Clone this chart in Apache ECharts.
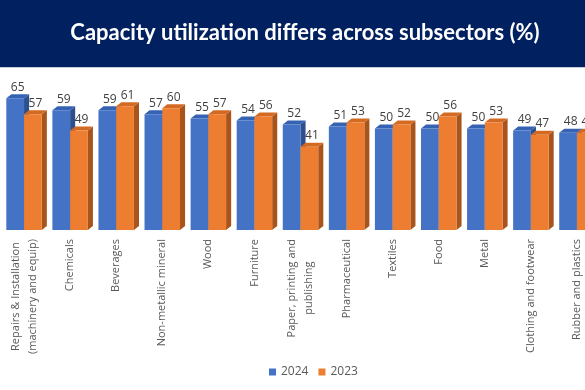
<!DOCTYPE html>
<html>
<head>
<meta charset="utf-8">
<script src="https://cdn.jsdelivr.net/npm/echarts@6/dist/echarts.min.js"></script>
<style>html,body{margin:0;padding:0;background:#fff}#c{width:585px;height:390px}</style>
</head>
<body>
<div id="c"></div>
<script>
var categories = [
  'Repairs & Installation\n(machinery and equip)',
  'Chemicals',
  'Beverages',
  'Non-metallic mineral',
  'Wood',
  'Furniture',
  'Paper, printing and\npublishing',
  'Pharmaceutical',
  'Textiles',
  'Food',
  'Metal',
  'Clothing and footwear',
  'Rubber and plastics'
];
var values2024 = [65, 59, 59, 57, 55, 54, 52, 51, 50, 50, 50, 49, 48];
var values2023 = [57, 49, 61, 60, 57, 56, 41, 53, 52, 56, 53, 47, 48];
var seriesNames = ['2024', '2023'];
var frontColors = ['#4472C4', '#ED7D31'];
var sideColors = ['#2C4F8E', '#A9541B'];
var topColors = ['#3562B2', '#D46A22'];

var chart = echarts.init(document.getElementById('c'));

function makeRender(s) {
  return function (params, api) {
    var idx = api.value(0);
    var v = api.value(1);
    var top = api.coord([idx, v]);
    var base = api.coord([idx, 0]);
    var band = api.size([1, 0])[0];
    var fw = band * 0.385;
    var dx = band * 0.11;
    var dy = 4;
    var x0 = top[0] - fw + s * fw;
    var ty = top[1], by = base[1];
    return {
      type: 'group',
      children: [
        { type: 'polygon', shape: { points: [[x0 + fw, ty], [x0 + fw + dx, ty - dy], [x0 + fw + dx, by - dy], [x0 + fw, by]] }, style: { fill: sideColors[s] } },
        { type: 'polygon', shape: { points: [[x0, ty], [x0 + dx, ty - dy], [x0 + fw + dx, ty - dy], [x0 + fw, ty]] }, style: { fill: topColors[s] } },
        { type: 'rect', shape: { x: x0, y: ty, width: fw, height: by - ty }, style: { fill: frontColors[s] } },
        { type: 'text', z2: 100, style: { text: String(v), x: x0 + fw / 2 + dx / 2, y: ty - dy - 1, align: 'center', verticalAlign: 'bottom', fill: '#404040', font: '12px "Open Sans"' } }
      ]
    };
  };
}

var option = {
  animation: false,
  color: frontColors,
  graphic: [
    { type: 'rect', left: 0, top: 0, shape: { width: 585, height: 67 }, style: { fill: '#002060' }, z: 0 },
    { type: 'rect', left: 0, top: 67, shape: { width: 585, height: 1 }, style: { fill: '#c8cdd8' }, z: 0 }
  ],
  title: {
    text: 'Capacity utilization differs across subsectors (%)',
    left: 300, top: 17, textAlign: 'center',
    textStyle: { color: '#ffffff', fontFamily: 'Lato', fontWeight: 'bold', fontSize: 22 }
  },
  legend: {
    data: seriesNames.map(function (n) { return { name: n, icon: 'rect' }; }),
    bottom: 7, left: 264,
    itemWidth: 7, itemHeight: 7, itemGap: 10,
    textStyle: { color: '#595959', fontSize: 12, fontFamily: 'Open Sans' }
  },
  grid: { left: 1, right: -15, top: 88, bottom: 160, containLabel: false, outerBoundsMode: 'none' },
  xAxis: {
    type: 'category',
    data: categories,
    axisLine: { show: false },
    axisTick: { show: false },
    axisLabel: {
      interval: 0, rotate: 90, margin: 9, hideOverlap: false,
      formatter: function (val) {
        return val.split('\n').map(function (l) { return '{c|' + l + '}'; }).join('\n');
      },
      rich: { c: { align: 'center', color: '#595959', fontSize: 11, fontFamily: 'Open Sans', lineHeight: 17 } }
    }
  },
  yAxis: { type: 'value', min: 0, max: 70, show: false, splitLine: { show: false } },
  series: [
    { name: seriesNames[0], type: 'custom', renderItem: makeRender(0), data: values2024.map(function (v, i) { return [i, v]; }), itemStyle: { color: frontColors[0] } },
    { name: seriesNames[1], type: 'custom', renderItem: makeRender(1), data: values2023.map(function (v, i) { return [i, v]; }), itemStyle: { color: frontColors[1] } }
  ]
};
chart.setOption(option);
</script>
</body>
</html>
